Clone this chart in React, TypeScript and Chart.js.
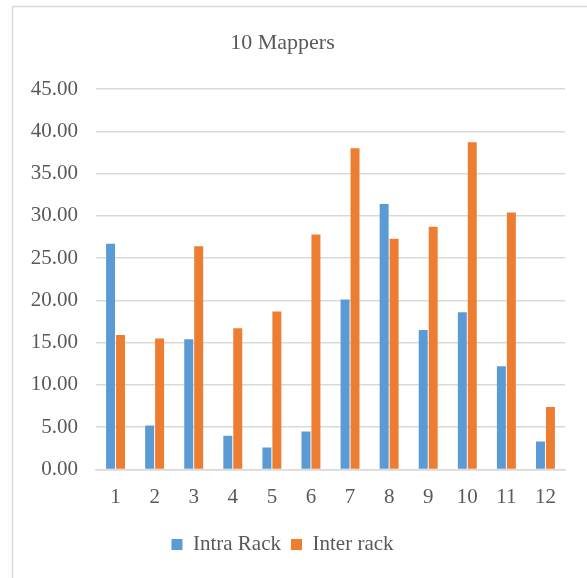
import React, { useEffect, useRef } from "react";
import { Chart, registerables } from "chart.js";

Chart.register(...registerables);

const categories = ["1", "2", "3", "4", "5", "6", "7", "8", "9", "10", "11", "12"];
const intraRack = [26.7, 5.2, 15.4, 4.0, 2.6, 4.5, 20.1, 31.4, 16.5, 18.6, 12.2, 3.3];
const interRack = [15.9, 15.5, 26.4, 16.7, 18.7, 27.8, 38.0, 27.3, 28.7, 38.7, 30.4, 7.4];
const titleText = "10 Mappers";
const seriesNames = ["Intra Rack", "Inter rack"];

const FONT = "'Liberation Serif', 'Times New Roman', serif";
const TEXT = "#595959";
const GRID = "#d9d9d9";

const borderPlugin = {
  id: "outerBorder",
  beforeDraw(chart: any) {
    const ctx = chart.ctx;
    ctx.save();
    ctx.strokeStyle = GRID;
    ctx.lineWidth = 1.5;
    ctx.beginPath();
    ctx.moveTo(12.5, chart.height);
    ctx.lineTo(12.5, 6.5);
    ctx.lineTo(chart.width, 6.5);
    ctx.stroke();
    ctx.restore();
  },
};

export default function App() {
  const ref = useRef<HTMLCanvasElement | null>(null);
  useEffect(() => {
    if (!ref.current) return;
    const chart = new Chart(ref.current, {
      type: "bar",
      data: {
        labels: categories,
        datasets: [
          { label: seriesNames[0], data: intraRack, backgroundColor: "#5B9BD5", categoryPercentage: 0.51, barPercentage: 0.9 },
          { label: seriesNames[1], data: interRack, backgroundColor: "#ED7D31", categoryPercentage: 0.51, barPercentage: 0.9 },
        ],
      },
      options: {
        responsive: false,
        animation: false,
        layout: { padding: { left: 0, right: 22, top: 0, bottom: 13 } },
        plugins: {
          title: {
            display: true,
            text: titleText,
            color: TEXT,
            font: { family: FONT, size: 22, weight: "normal", lineHeight: 1.2 },
            padding: { top: 30, bottom: 32.6 },
          },
          legend: {
            position: "bottom",
            labels: {
              color: TEXT,
              font: { family: FONT, size: 21 },
              boxWidth: 11,
              boxHeight: 11,
              padding: 10,
            },
          },
          tooltip: { enabled: false },
        },
        scales: {
          x: {
            grid: { display: false, drawTicks: false },
            border: { color: GRID, width: 1.5 },
            ticks: { color: TEXT, font: { family: FONT, size: 21 }, padding: 15, maxRotation: 0 },
            afterFit(scale: any) {
              scale.height = 54.5;
            },
          },
          y: {
            min: 0,
            max: 45,
            ticks: {
              stepSize: 5,
              color: TEXT,
              font: { family: FONT, size: 21 },
              padding: 18,
              callback: (v: any) => Number(v).toFixed(2),
            },
            grid: { color: GRID, lineWidth: 1.5, drawTicks: false },
            border: { display: false },
            afterFit(scale: any) {
              scale.width = 96;
            },
          },
        },
      },
      plugins: [borderPlugin],
    });
    return () => chart.destroy();
  }, []);
  return (
    <div style={{ position: "absolute", left: 0, top: 0, width: 587, height: 578, background: "#fff" }}>
      <canvas ref={ref} width={587} height={578} style={{ display: "block" }} />
    </div>
  );
}
